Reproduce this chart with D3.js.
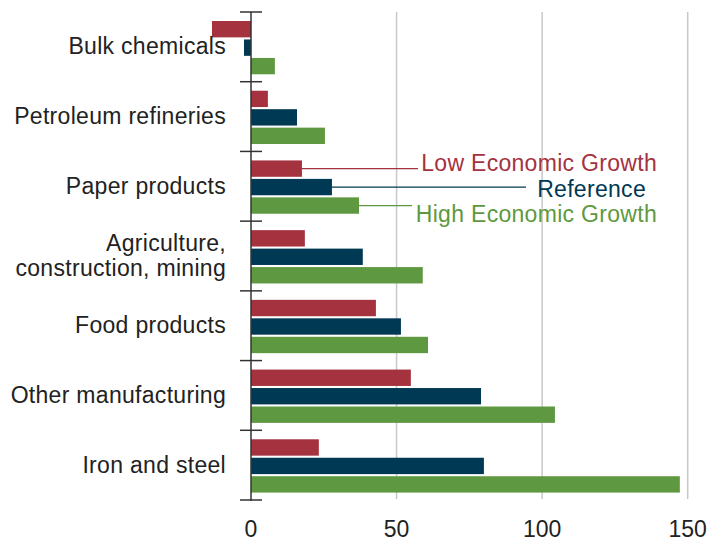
<!DOCTYPE html>
<html><head><meta charset="utf-8">
<script src="https://cdn.jsdelivr.net/npm/d3@7"></script>
<style>
html,body{margin:0;padding:0;background:#fff;}
text{font-family:"Liberation Sans",Arial,Helvetica,sans-serif;}
</style></head>
<body>
<svg id="chart" width="707" height="542"></svg>
<script>
const categories = ["Bulk chemicals","Petroleum refineries","Paper products","Agriculture, construction, mining","Food products","Other manufacturing","Iron and steel"];
const categoryLines = [["Bulk chemicals"],["Petroleum refineries"],["Paper products"],["Agriculture,","construction, mining"],["Food products"],["Other manufacturing"],["Iron and steel"]];
const seriesNames = ["Low Economic Growth","Reference","High Economic Growth"];
const lowGrowth = [-13.4, 5.8, 17.5, 18.5, 42.9, 54.9, 23.3];
const reference = [-2.4, 15.8, 27.8, 38.4, 51.5, 79.0, 80.0];
const highGrowth = [8.2, 25.4, 37.1, 59.0, 60.8, 104.4, 147.3];
const xTicks = [0, 50, 100, 150];
const colors = ["#a4323f", "#003953", "#5e9941"];

const svg = d3.select("#chart");
const x = d3.scaleLinear().domain([0,150]).range([251, 687.7]);
const y = d3.scaleBand().domain(categories).range([12, 500]).paddingInner(0).paddingOuter(0);
const ys = d3.scaleBand().domain(seriesNames).range([9, 62.3]).paddingInner(0.114).paddingOuter(0);
const seriesVals = [lowGrowth, reference, highGrowth];

// gridlines
svg.append("g").selectAll("line").data(xTicks.filter(d=>d>0)).join("line")
  .attr("x1", d=>x(d)).attr("x2", d=>x(d)).attr("y1", 12).attr("y2", 499)
  .attr("stroke", "#c8c8c8").attr("stroke-width", 1.5);

// bars
const rows = [];
categories.forEach((c,i)=>seriesNames.forEach((s,j)=>rows.push({c, s, v: seriesVals[j][i], j})));
svg.append("g").selectAll("rect").data(rows).join("rect")
  .attr("x", d=>x(Math.min(0,d.v)))
  .attr("width", d=>Math.abs(x(d.v)-x(0)))
  .attr("y", d=>y(d.c)+ys(d.s))
  .attr("height", ys.bandwidth())
  .attr("fill", d=>colors[d.j]);

// axis line and ticks
const axisG = svg.append("g");
axisG.append("line").attr("x1", x(0)).attr("x2", x(0)).attr("y1", 12).attr("y2", 501)
  .attr("stroke", "#333").attr("stroke-width", 1.5);
const boundaries = categories.map(c=>y(c)).concat([y.range()[1]]);
axisG.selectAll("line.tk").data(boundaries).join("line").attr("class","tk")
  .attr("x1", 240).attr("x2", 262).attr("y1", d=>d).attr("y2", d=>d)
  .attr("stroke", "#333").attr("stroke-width", 1.5);

// category labels
categories.forEach((c,i)=>{
  const lines = categoryLines[i];
  const cy = y(c) + y.bandwidth()/2;
  const lh = 25;
  const t = svg.append("text").attr("text-anchor","end").attr("font-size", 23)
    .attr("fill","#222").style("letter-spacing","0.3px");
  lines.forEach((l,k)=>{
    t.append("tspan").attr("x", 226)
     .attr("y", cy + (k - (lines.length-1)/2)*lh + 7.5).text(l);
  });
});

// x tick labels
svg.append("g").selectAll("text").data(xTicks).join("text")
  .attr("x", d=>x(d)).attr("y", 537).attr("text-anchor","middle")
  .attr("font-size", 23).attr("fill","#222").text(d=>d);

// legend leaders (from Paper products bars)
const legendCat = "Paper products";
const ci = categories.indexOf(legendCat);
const legEndX = [418, 526, 412];
const legTextX = [657, 646, 657];
const legTextY = [171, 197, 222];
seriesNames.forEach((s,j)=>{
  const yy = y(legendCat) + ys(s) + ys.bandwidth()/2;
  svg.append("line").attr("x1", x(seriesVals[j][ci])).attr("x2", legEndX[j])
    .attr("y1", yy).attr("y2", yy).attr("stroke", colors[j]).attr("stroke-width", 1.3);
  svg.append("text").attr("x", legTextX[j]).attr("y", legTextY[j]).attr("text-anchor","end")
    .attr("font-size", 23).attr("fill", colors[j]).style("letter-spacing","0.3px").text(s);
});
</script>
</body></html>
